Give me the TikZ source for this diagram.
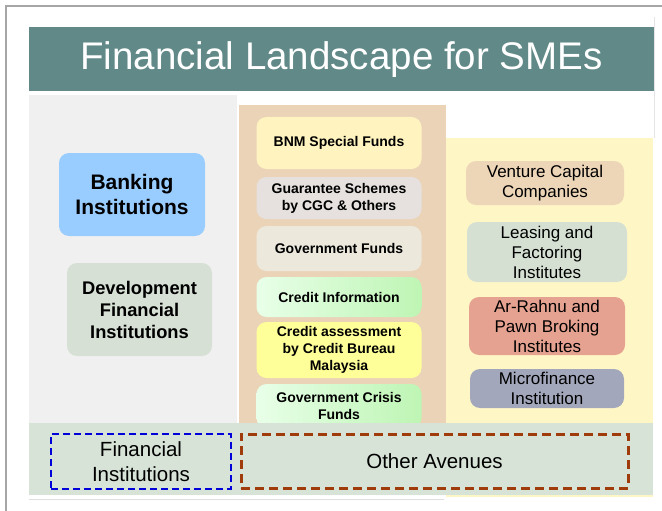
\documentclass[tikz,border=0pt]{standalone}
\usepackage{fontspec}
\setmainfont{Liberation Sans}

\definecolor{teal1}{RGB}{96,137,135}
\definecolor{pgray}{RGB}{240,240,240}
\definecolor{ptan}{RGB}{235,211,184}
\definecolor{pyel}{RGB}{255,246,198}
\definecolor{pband}{RGB}{216,227,216}
\definecolor{cbank}{RGB}{153,204,255}
\definecolor{cdfi}{RGB}{214,224,212}
\definecolor{cbnm}{RGB}{255,244,192}
\definecolor{ccgc}{RGB}{230,225,222}
\definecolor{cgov}{RGB}{236,232,220}
\definecolor{cgrA}{RGB}{232,255,232}
\definecolor{cgrB}{RGB}{190,245,180}
\definecolor{ccbm}{RGB}{255,255,153}
\definecolor{cvcc}{RGB}{237,213,184}
\definecolor{clfi}{RGB}{213,224,211}
\definecolor{cpawn}{RGB}{230,162,144}
\definecolor{cmicro}{RGB}{162,167,187}
\definecolor{cbrown}{RGB}{160,60,12}

\begin{document}
\begin{tikzpicture}[x=1pt,y=-1pt]
				\tikzstyle{rb}=[rectangle,rounded corners=10pt,inner sep=0pt,align=center]
				\tikzstyle{lb}=[rb,font=\fontsize{21}{25}\selectfont\bfseries]
				\tikzstyle{mb}=[rb,minimum width=165pt,font=\fontsize{14}{17}\selectfont\bfseries]
				\tikzstyle{rt}=[rb,font=\fontsize{17}{20}\selectfont]
				\tikzstyle{gr}=[left color=cgrA,right color=cgrB]
				\tikzstyle{db}=[rectangle,inner sep=0pt,align=center,font=\fontsize{20.5}{25}\selectfont]

				\useasboundingbox (0,0) rectangle (662,511);

				% frame and panels
				\draw[gray!70,line width=2pt] (662,6) -- (5.5,6) -- (5.5,511);
				\draw[gray!20] (654,17) -- (654,138);
				\fill[teal1] (29,27) rectangle (654,91);
				\fill[pgray] (29,95) rectangle (237,423);
				\fill[ptan] (239,105) rectangle (446,423);
				\fill[pyel] (446,138) rectangle (653,497);
				\node[text=white,font=\fontsize{38.5}{42}\selectfont,anchor=base] (title) at (341.5,69.5) {Financial Landscape for SMEs};

				% financial institutions
				\node[lb,fill=cbank,minimum width=146pt,minimum height=83pt] (bank) at (132,194.5) {Banking\\Institutions};
				\node[lb,fill=cdfi,minimum width=145pt,minimum height=93pt,font=\fontsize{18.3}{22}\selectfont\bfseries] (dfi) at (139.5,309.5) {Development\\Financial\\Institutions};

				% funds and credit
				\node[mb,fill=cbnm,minimum height=52pt] (bnm) at (339,143) {BNM Special Funds};
				\node[mb,fill=ccgc,minimum height=42pt] (cgc) at (339,198) {Guarantee Schemes\\by CGC \& Others};
				\node[mb,fill=cgov,minimum height=45pt] (govf) at (339,248.5) {Government Funds};
				\node[mb,gr,minimum height=40pt] (cinfo) at (339,297) {Credit Information};
				\node[mb,fill=ccbm,minimum height=56pt] (cbm) at (339,350) {Credit assessment\\by Credit Bureau\\Malaysia};
				\node[mb,gr,minimum height=44pt] (crisis) at (339,406) {Government Crisis\\Funds};

				% other institutions
				\node[rt,fill=cvcc,minimum width=158pt,minimum height=44pt] (vcc) at (545,183) {Venture Capital\\Companies};
				\node[rt,fill=clfi,minimum width=160pt,minimum height=60pt] (lfi) at (547,252) {Leasing and\\Factoring\\Institutes};
				\node[rt,fill=cpawn,minimum width=156pt,minimum height=58pt] (pawn) at (547,326) {Ar-Rahnu and\\Pawn Broking\\Institutes};
				\node[rt,fill=cmicro,minimum width=154pt,minimum height=39pt] (micro) at (547,388.5) {Microfinance\\Institution};

				% legend band
				\fill[pband] (29,423) rectangle (653,495);
				\draw[gray!25,line width=1pt] (29,499) -- (444,499);
				\node[db,draw=blue!85!black,line width=2.5pt,dash pattern=on 7pt off 4pt,minimum width=180pt,minimum height=55pt] (fi) at (141,461.5) {Financial\\Institutions};
				\node[db,draw=cbrown,line width=3pt,dash pattern=on 9pt off 5pt,minimum width=387pt,minimum height=54pt] (oa) at (434.5,461) {Other Avenues};
			\end{tikzpicture}
\end{document}
